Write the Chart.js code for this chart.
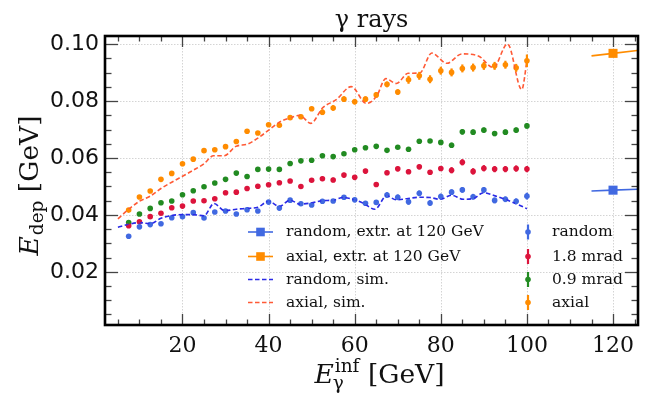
<!DOCTYPE html>
<html><head><meta charset="utf-8">
<script src="https://cdn.jsdelivr.net/npm/chart.js@4"></script>
<style>html,body{margin:0;padding:0;background:#fff}#c{display:block}</style>
</head><body>
<canvas id="c" width="646" height="400"></canvas>
<script>
// ---------- data ----------
const energies = [7.5,10,12.5,15,17.5,20,22.5,25,27.5,30,32.5,35,37.5,40,42.5,45,47.5,50,52.5,55,57.5,60,62.5,65,67.5,70,72.5,75,77.5,80,82.5,85,87.5,90,92.5,95,97.5,100];
const randomEdep = [0.0325,0.0358,0.0366,0.0369,0.0390,0.0394,0.0408,0.0389,0.0410,0.0414,0.0403,0.0418,0.0414,0.0445,0.0424,0.0452,0.0439,0.0435,0.0448,0.0449,0.0462,0.0453,0.0441,0.0444,0.0470,0.0462,0.0446,0.0476,0.0442,0.0465,0.0480,0.0488,0.0464,0.0488,0.0451,0.0455,0.0448,0.0466];
const randomErr = [0.0004,0.0004,0.0004,0.0004,0.0004,0.0004,0.0004,0.0004,0.0004,0.0004,0.0004,0.0007,0.0007,0.0007,0.0007,0.0007,0.0007,0.0007,0.0007,0.0007,0.0007,0.0007,0.0007,0.0007,0.0010,0.0010,0.0010,0.0010,0.0010,0.0010,0.0010,0.0010,0.0010,0.0010,0.0010,0.0010,0.0010,0.0012];
const mrad18Edep = [0.0362,0.0376,0.0394,0.0406,0.0425,0.0431,0.0449,0.0450,0.0457,0.0478,0.0480,0.0493,0.0501,0.0506,0.0513,0.0519,0.0500,0.0522,0.0527,0.0523,0.0540,0.0532,0.0554,0.0507,0.0548,0.0562,0.0552,0.0569,0.0550,0.0563,0.0557,0.0585,0.0553,0.0564,0.0561,0.0561,0.0563,0.0561];
const mrad18Err = [0.0004,0.0004,0.0004,0.0004,0.0004,0.0004,0.0004,0.0004,0.0004,0.0004,0.0004,0.0004,0.0004,0.0004,0.0004,0.0004,0.0004,0.0004,0.0008,0.0008,0.0008,0.0008,0.0008,0.0008,0.0008,0.0008,0.0008,0.0008,0.0008,0.0008,0.0011,0.0011,0.0011,0.0011,0.0011,0.0011,0.0011,0.0011];
const mrad09Edep = [0.0373,0.0403,0.0423,0.0443,0.0449,0.0471,0.0485,0.0499,0.0512,0.0525,0.0547,0.0535,0.0560,0.0561,0.0560,0.0581,0.0590,0.0592,0.0608,0.0605,0.0615,0.0629,0.0636,0.0641,0.0627,0.0638,0.0631,0.0659,0.0660,0.0655,0.0645,0.0692,0.0691,0.0698,0.0686,0.0691,0.0698,0.0713];
const mrad09Err = [0.0004,0.0004,0.0004,0.0004,0.0004,0.0004,0.0004,0.0004,0.0004,0.0004,0.0004,0.0004,0.0004,0.0004,0.0006,0.0006,0.0006,0.0006,0.0006,0.0006,0.0006,0.0006,0.0006,0.0006,0.0006,0.0006,0.0006,0.0006,0.0006,0.0006,0.0009,0.0009,0.0009,0.0009,0.0009,0.0009,0.0009,0.0009];
const axialEdep = [0.0417,0.0463,0.0484,0.0525,0.0546,0.0580,0.0596,0.0626,0.0629,0.0640,0.0658,0.0694,0.0688,0.0717,0.0715,0.0742,0.0745,0.0773,0.0761,0.0776,0.0807,0.0798,0.0807,0.0822,0.0859,0.0832,0.0875,0.0889,0.0877,0.0907,0.0901,0.0915,0.0918,0.0924,0.0924,0.0928,0.0917,0.0942];
const axialErr = [0.0004,0.0004,0.0004,0.0004,0.0004,0.0004,0.0004,0.0004,0.0004,0.0004,0.0007,0.0007,0.0007,0.0007,0.0007,0.0007,0.0007,0.0007,0.0010,0.0010,0.0010,0.0010,0.0010,0.0010,0.0010,0.0010,0.0014,0.0014,0.0014,0.0014,0.0014,0.0014,0.0014,0.0014,0.0014,0.0014,0.0014,0.0022];

const simRandomE = [5,7.5,10,12.5,15,17.5,20,22.5,25,27.3,29.8,32.5,35,37.5,40,42.5,45,47.2,49.9,52.5,55,57.3,60,62,64.7,67.4,69.7,72.4,75.1,77.5,79.8,82.5,85.2,87.6,89.9,92.6,95.3,97.7,100];
const simRandomEdep = [0.0357,0.0367,0.0373,0.0369,0.0388,0.0398,0.0401,0.0401,0.0397,0.0440,0.0415,0.0420,0.0423,0.0427,0.0448,0.0430,0.0452,0.0438,0.0442,0.0450,0.0452,0.0461,0.0453,0.0441,0.0420,0.0467,0.0453,0.0458,0.0462,0.0461,0.0455,0.0469,0.0455,0.0458,0.0478,0.0467,0.0453,0.0438,0.0422];
const simAxialE = [5,7.5,10,12.5,15,17.5,20,22.5,25,27.2,29.7,32.4,35.1,37.5,40.2,42.5,45,47.2,49.8,52.6,55.7,59.2,62.7,65.1,67.2,69.7,72.4,75.1,77.9,81.4,84.9,88.7,92.2,95.5,98.8,100];
const simAxialEdep = [0.0386,0.0420,0.0448,0.0466,0.0493,0.0515,0.0536,0.0557,0.0580,0.0608,0.0608,0.0641,0.0649,0.0670,0.0700,0.0726,0.0741,0.0750,0.0722,0.0777,0.0805,0.0851,0.0792,0.0818,0.0879,0.0862,0.0898,0.0899,0.0969,0.0933,0.0966,0.0959,0.0918,0.1001,0.0841,0.0940];

const extrE = [115,120,125.6];
const extrRandomEdep = [0.0484,0.0487,0.0490];
const extrAxialEdep = [0.0959,0.0968,0.0978];

const xTickValues = [20,40,60,80,100,120];
const yTickValues = [0.02,0.04,0.06,0.08,0.10];

const C = {royal:'#4169e1', crimson:'#dc143c', green:'#228b22', orange:'#ff8c00', simBlue:'#2a2ae6', simRed:'#ff5a36'};

const pts = (xs, ys) => xs.map((x,i)=>({x, y:ys[i]}));

const datasets = [
  {label:'random, extr. at 120 GeV', type:'line', data:pts(extrE,extrRandomEdep), borderColor:C.royal, backgroundColor:C.royal, borderWidth:1.6,
   pointStyle:'rect', pointRadius:[0,6.4,0], pointBorderWidth:0, _leg:{col:0,kind:'extr'}},
  {label:'axial, extr. at 120 GeV', type:'line', data:pts(extrE,extrAxialEdep), borderColor:C.orange, backgroundColor:C.orange, borderWidth:1.6,
   pointStyle:'rect', pointRadius:[0,6.4,0], pointBorderWidth:0, _leg:{col:0,kind:'extr'}},
  {label:'random, sim.', type:'line', data:pts(simRandomE,simRandomEdep), borderColor:C.simBlue, borderWidth:1.6, borderDash:[4.5,2.5],
   pointRadius:0, cubicInterpolationMode:'monotone', _leg:{col:0,kind:'dash'}},
  {label:'axial, sim.', type:'line', data:pts(simAxialE,simAxialEdep), borderColor:C.simRed, borderWidth:1.6, borderDash:[4.5,2.5],
   pointRadius:0, cubicInterpolationMode:'monotone', _leg:{col:0,kind:'dash'}},
  {label:'random', type:'scatter', data:pts(energies,randomEdep), _err:randomErr, backgroundColor:C.royal, borderColor:C.royal, pointRadius:2.8, borderWidth:0, _leg:{col:1,kind:'err'}},
  {label:'1.8 mrad', type:'scatter', data:pts(energies,mrad18Edep), _err:mrad18Err, backgroundColor:C.crimson, borderColor:C.crimson, pointRadius:2.8, borderWidth:0, _leg:{col:1,kind:'err'}},
  {label:'0.9 mrad', type:'scatter', data:pts(energies,mrad09Edep), _err:mrad09Err, backgroundColor:C.green, borderColor:C.green, pointRadius:2.8, borderWidth:0, _leg:{col:1,kind:'err'}},
  {label:'axial', type:'scatter', data:pts(energies,axialEdep), _err:axialErr, backgroundColor:C.orange, borderColor:C.orange, pointRadius:2.8, borderWidth:0, _leg:{col:1,kind:'err'}}
];

const SERIF = '"DejaVu Serif", serif';
const SANS = '"DejaVu Sans", sans-serif';

const deco = {
  id:'deco',
  beforeDatasetsDraw(chart){
    // dotted grid at major ticks
    const ctx = chart.ctx, xs = chart.scales.x, ys = chart.scales.y, a = chart.chartArea;
    ctx.save();
    ctx.strokeStyle = '#cfcfcf'; ctx.lineWidth = 0.9; ctx.setLineDash([1.5,1.5]);
    xTickValues.forEach(v=>{ const px = Math.round(xs.getPixelForValue(v))+0.5;
      ctx.beginPath(); ctx.moveTo(px,a.top); ctx.lineTo(px,a.bottom); ctx.stroke(); });
    yTickValues.forEach(v=>{ const py = Math.round(ys.getPixelForValue(v))+0.5;
      ctx.beginPath(); ctx.moveTo(a.left,py); ctx.lineTo(a.right,py); ctx.stroke(); });
    ctx.restore();
  },
  afterDatasetsDraw(chart){
    const ctx = chart.ctx, xs = chart.scales.x, ys = chart.scales.y;
    ctx.save();
    ctx.beginPath();
    ctx.rect(chart.chartArea.left, chart.chartArea.top, chart.chartArea.right-chart.chartArea.left, chart.chartArea.bottom-chart.chartArea.top);
    ctx.clip();
    chart.data.datasets.forEach(ds=>{
      if(!ds._err) return;
      ctx.strokeStyle = ds.borderColor; ctx.lineWidth = 2.2; ctx.lineCap='butt';
      ds.data.forEach((p,i)=>{
        const e = ds._err[i];
        const px = xs.getPixelForValue(p.x);
        ctx.beginPath();
        ctx.moveTo(px, ys.getPixelForValue(p.y - e));
        ctx.lineTo(px, ys.getPixelForValue(p.y + e));
        ctx.stroke();
      });
    });
    ctx.restore();
  },
  afterDraw(chart){
    const ctx = chart.ctx, xs = chart.scales.x, ys = chart.scales.y, a = chart.chartArea;
    ctx.save();
    // ticks inward on all sides
    ctx.strokeStyle = '#444'; ctx.lineWidth = 1.3;
    const seg = (x1,y1,x2,y2)=>{ctx.beginPath();ctx.moveTo(x1,y1);ctx.lineTo(x2,y2);ctx.stroke();};
    for(let v=5; v<=125; v+=5){
      const px = Math.round(xs.getPixelForValue(v))+0.5;
      if(px<a.left||px>a.right) continue;
      const L = (v%20===0)?11:5.5;
      seg(px,a.bottom,px,a.bottom-L); seg(px,a.top,px,a.top+L);
    }
    for(let k=1; k<=20; k++){
      const v = k*0.005;
      const py = Math.round(ys.getPixelForValue(v))+0.5;
      if(py<a.top||py>a.bottom) continue;
      const L = (k%4===0)?13:6.5;
      seg(a.left,py,a.left+L,py); seg(a.right,py,a.right-L,py);
    }
    // frame
    ctx.strokeStyle = '#000'; ctx.lineWidth = 2.6;
    ctx.strokeRect(a.left, a.top, a.right-a.left, a.bottom-a.top);

    // title
    ctx.fillStyle = '#111'; ctx.textAlign='center'; ctx.textBaseline='alphabetic';
    ctx.font = '24px '+SERIF;
    ctx.fillText('γ rays', (a.left+a.right)/2, 27);

    // x axis title: E_γ^inf [GeV]
    const big = 26.5, small = 18.5;
    const fBigI = 'italic '+big+'px '+SERIF, fBig = big+'px '+SERIF, fSmall = small+'px '+SERIF;
    ctx.textAlign='left';
    ctx.font=fBigI; const wE = ctx.measureText('E').width;
    ctx.font=fSmall; const wSup = ctx.measureText('inf').width, wSub = ctx.measureText('γ').width;
    ctx.font=fBig; const wRest = ctx.measureText(' [GeV]').width;
    const wTot = wE + Math.max(wSup,wSub) + 1 + wRest;
    let x0 = (a.left+a.right)/2 - wTot/2 + 8, bl = 383;
    ctx.font=fBigI; ctx.fillText('E', x0, bl);
    ctx.font=fSmall; ctx.fillText('inf', x0+wE+1, bl-11); ctx.fillText('γ', x0+wE-1, bl+6);
    ctx.font=fBig; ctx.fillText(' [GeV]', x0+wE+1+Math.max(wSup,wSub), bl);

    // y axis title: E_dep [GeV]
    ctx.save();
    ctx.translate(38, (a.top+a.bottom)/2+5);
    ctx.rotate(-Math.PI/2);
    ctx.font=fBigI; const wE2 = ctx.measureText('E').width;
    ctx.font=fSmall; const wDep = ctx.measureText('dep').width;
    ctx.font=fBig; const wR2 = ctx.measureText(' [GeV]').width;
    const t2 = wE2 + wDep + 1 + wR2;
    let s = -t2/2;
    ctx.font=fBigI; ctx.fillText('E', s, 0);
    ctx.font=fSmall; ctx.fillText('dep', s+wE2+1, 5);
    ctx.font=fBig; ctx.fillText(' [GeV]', s+wE2+1+wDep, 0);
    ctx.restore();

    // legend (two columns, no frame)
    ctx.font = '15.5px '+SERIF; ctx.textBaseline='middle'; ctx.textAlign='left';
    const rows = [232, 256.5, 279.5, 302.5];
    const col = [{h0:248, h1:273, tx:286}, {hx:528, tx:552}];
    const cnt=[0,0];
    chart.data.datasets.forEach(ds=>{
      const L = ds._leg; const r = rows[cnt[L.col]++];
      if(L.col===0){
        const c = col[0];
        ctx.strokeStyle = ds.borderColor;
        ctx.lineWidth = L.kind==='dash'?1.6:1.6;
        ctx.setLineDash(L.kind==='dash'?[4.5,2.5]:[]);
        seg(c.h0, r, c.h1, r);
        ctx.setLineDash([]);
        if(L.kind==='extr'){
          ctx.fillStyle = ds.backgroundColor;
          ctx.fillRect((c.h0+c.h1)/2-4.3, r-4.3, 8.6, 8.6);
        }
        ctx.fillStyle='#111'; ctx.fillText(ds.label, c.tx, r);
      } else {
        const c = col[1];
        ctx.strokeStyle = ds.borderColor; ctx.lineWidth = 2.2;
        seg(c.hx, r-7.5, c.hx, r+7.5);
        ctx.fillStyle = ds.backgroundColor;
        ctx.beginPath(); ctx.arc(c.hx, r, 2.8, 0, Math.PI*2); ctx.fill();
        ctx.fillStyle='#111'; ctx.fillText(ds.label, c.tx, r);
      }
    });
    ctx.restore();
  }
};

new Chart(document.getElementById('c'), {
  type:'scatter',
  data:{datasets},
  options:{
    responsive:false, animation:false, devicePixelRatio:1,
    layout:{padding:{left:0, top:36, right:8, bottom:0}},
    plugins:{legend:{display:false}, tooltip:{enabled:false}, title:{display:false}},
    scales:{
      x:{type:'linear', min:2, max:125.8,
         afterBuildTicks: s=>{ s.ticks = xTickValues.map(v=>({value:v})); },
         afterFit: s=>{ s.height = 75; },
         ticks:{font:{family:SERIF, size:22}, color:'#111', padding:8, maxRotation:0, callback:v=>String(v)},
         grid:{display:false, drawTicks:false},
         border:{display:false}
      },
      y:{type:'linear', min:0.0013, max:0.1029,
         afterBuildTicks: s=>{ s.ticks = yTickValues.map(v=>({value:v})); },
         afterFit: s=>{ s.width = 105; },
         ticks:{font:{family:SANS, size:22}, color:'#111', padding:6, callback:v=>v.toFixed(2)},
         grid:{display:false, drawTicks:false},
         border:{display:false}
      }
    }
  },
  plugins:[deco]
});
</script>
</body></html>
